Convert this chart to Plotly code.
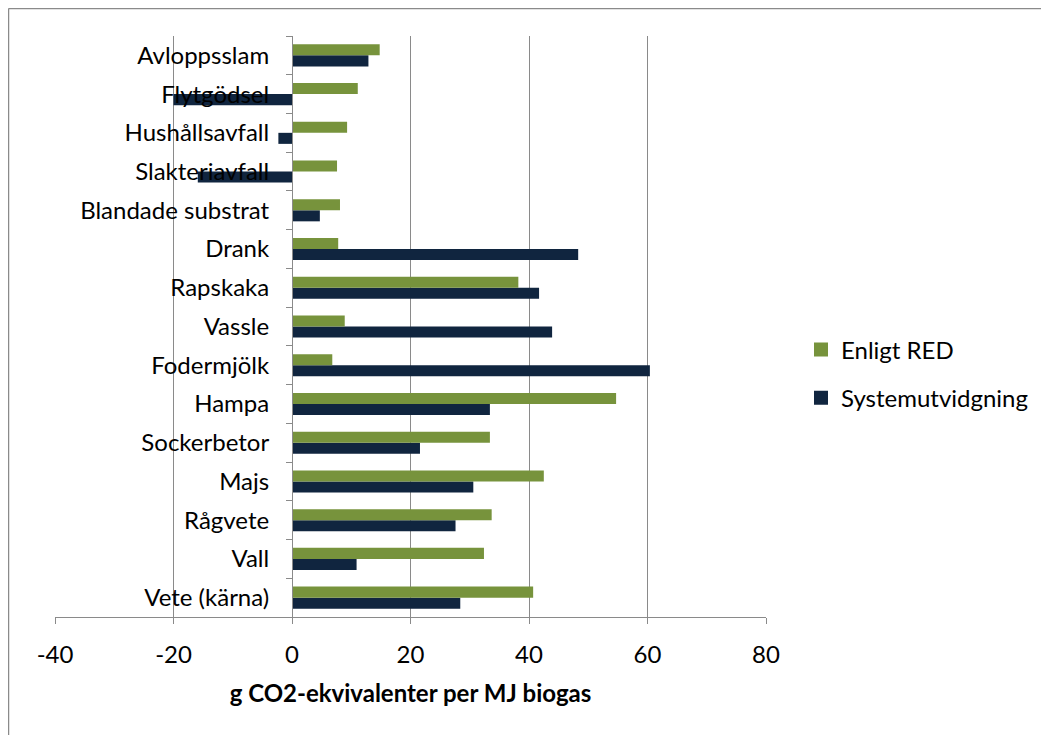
import plotly.graph_objects as go

categories = ["Vete (kärna)", "Vall", "Rågvete", "Majs", "Sockerbetor", "Hampa",
              "Fodermjölk", "Vassle", "Rapskaka", "Drank", "Blandade substrat",
              "Slakteriavfall", "Hushållsavfall", "Flytgödsel", "Avloppsslam"]
enligt_red = [40.7, 32.4, 33.7, 42.5, 33.4, 54.7, 6.8, 8.9, 38.2, 7.8, 8.1, 7.6, 9.3, 11.1, 14.8]
systemutvidgning = [28.4, 10.9, 27.6, 30.6, 21.6, 33.4, 60.4, 43.9, 41.7, 48.3, 4.7, -15.9, -2.3, -20.0, 12.9]
x_ticks = [-40, -20, 0, 20, 40, 60, 80]
x_ticktext = ["-40", "-20", "0", "20", "40", "60", "80"]
series_names = ["Enligt RED", "Systemutvidgning"]

GREEN = "#77933C"
NAVY = "#10253F"
GRID = "#8a8a8a"
FONT = "Lato"

W, H = 1041, 727
ML, MT = 47, 28
PW, PH = 711, 581
MR = W - ML - PW
MB = H - MT - PH

fig = go.Figure()
fig.add_trace(go.Bar(y=categories, x=systemutvidgning, orientation="h", name=series_names[1],
                     marker=dict(color=NAVY, line=dict(width=0)), showlegend=False))
fig.add_trace(go.Bar(y=categories, x=enligt_red, orientation="h", name=series_names[0],
                     marker=dict(color=GREEN, line=dict(width=0)), showlegend=False))
# legend entries with larger square keys
for i, (nm, col) in enumerate(zip(series_names, [GREEN, NAVY])):
    fig.add_trace(go.Scatter(x=[None], y=[None], mode="markers", name=nm,
                             marker=dict(symbol="square", size=14, color=col),
                             legendgroup=nm, legendrank=i + 1, showlegend=True))

xmin, xmax = x_ticks[0], x_ticks[-1]
fig.update_layout(
    width=W, height=H,
    margin=dict(l=ML, r=MR, t=MT, b=MB, autoexpand=False),
    paper_bgcolor="white", plot_bgcolor="white",
    font=dict(family=FONT, size=24, color="black"),
    barmode="group", bargap=0.43, bargroupgap=0,
    showlegend=True,
    legend=dict(x=(793 - ML) / PW, y=(MT + PH - 366) / PH, xanchor="left", yanchor="middle",
                traceorder="grouped", tracegroupgap=14, itemwidth=30,
                font=dict(family=FONT, size=24, color="black")),
    xaxis=dict(range=[xmin, xmax], tickvals=x_ticks, ticktext=x_ticktext,
               showgrid=True, gridcolor=GRID, gridwidth=1,
               zeroline=False, showline=True, linecolor=GRID, linewidth=1,
               ticks="outside", ticklen=6, tickcolor=GRID, ticklabelstandoff=10,
               tickfont=dict(size=24),
               title=dict(text="<b>g CO2-ekvivalenter per MJ biogas</b>", standoff=18,
                          font=dict(size=24))),
    yaxis=dict(type="category", categoryorder="array", categoryarray=categories,
               anchor="free", position=(0 - xmin) / (xmax - xmin),
               showgrid=False, zeroline=False, showline=True, linecolor=GRID, linewidth=1,
               ticks="outside", ticklen=6, tickcolor=GRID, tickson="boundaries",
               ticklabelstandoff=18, tickfont=dict(size=24)),
    shapes=[
        dict(type="line", xref="paper", yref="paper",
             x0=(0.5 - ML) / PW, x1=(W + 10 - ML) / PW,
             y0=(MT + PH - 0.5) / PH, y1=(MT + PH - 0.5) / PH,
             line=dict(color=GRID, width=1.5), layer="below"),
        dict(type="line", xref="paper", yref="paper",
             x0=(0.5 - ML) / PW, x1=(0.5 - ML) / PW,
             y0=-(MB + 10) / PH, y1=(MT + PH - 0.5) / PH,
             line=dict(color=GRID, width=1.5), layer="below"),
    ],
)

fig.write_html("out.html")
